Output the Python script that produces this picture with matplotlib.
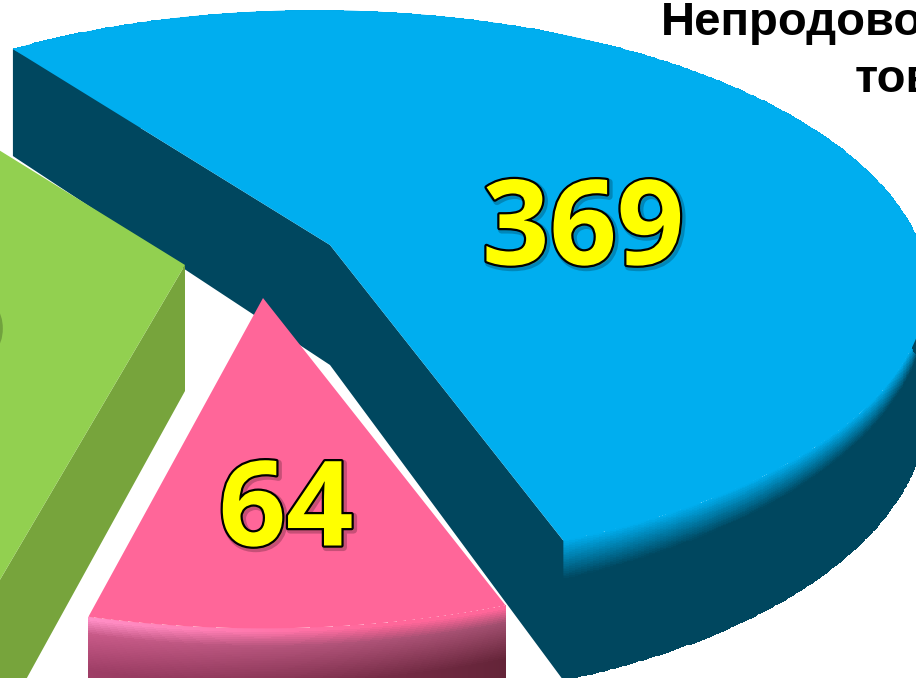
import numpy as np
import matplotlib
matplotlib.use('Agg')
import matplotlib.pyplot as plt
import matplotlib.patheffects as pe
from matplotlib.colors import to_rgb
from matplotlib.patches import Polygon

# Data
# ----------------------------------------------------------------------------

labels = ['369', '64', '246']
values = [369, 64, 246]     # last one is cut off in the picture, estimated
title_lines = ['Непродовольчі', 'товари']

# Layout and projection of the 3D pie, in pixels of the 916x678 picture
# ----------------------------------------------------------------------------

start = 125.5   # angle of first slice edge [deg], slices run clockwise
rx = 590        # half width of the disc
ry = 270        # half height of the disc
persp = 0.15    # perspective strength
depth = 120     # height of the disc

apex = [(330, 245), (263, 298), (185, 265)]
scale = [1.0, 1.04, 1.05]
lean_back = [-0.06, 0.0, -0.06]     # sideways drift of the far half
lean_front = [0.0, 0.0, 0.04]       # sideways drift of the near half

blue, blue_dark = '#00AEEF', '#00475F'
pink = '#FF6699'
green, green_dark = '#92D050', '#77A43C'


def project(theta, r, z, i):
    x = r * np.cos(np.radians(theta))
    y = r * np.sin(np.radians(theta))
    w = 1 + persp * y
    s = scale[i]
    lean = np.where(y > 0, lean_back[i], lean_front[i])
    sx = apex[i][0] + s * (rx * x + lean * ry * y) / w
    sy = apex[i][1] + s * (-ry * y + depth * z) / w
    return sx, sy


def rgb(c):
    return np.array(to_rgb(c)) if isinstance(c, str) else c


def mix(c0, c1, t):
    t = np.clip(t, 0, 1)[..., None]
    return (1 - t) * rgb(c0) + t * rgb(c1)


def blue_wall(u, v):
    # soft band under the rim, wide at the near corner, narrow at the right
    band = 0.28 - 0.17 * np.clip(u / 0.4, 0, 1)
    return mix(blue, blue_dark, v / band)


def green_wall(u, v):
    return mix(green_dark, green_dark, v)


def pink_wall(u, v):
    rim = mix('#FF8FC6', pink, u / 0.7)
    low = mix('#C85A88', '#A04E6E', u)
    bottom = mix('#9E3E66', '#642438', u)
    return np.where((v > 0.12)[..., None],
                    mix(low, bottom, (v - 0.12) / 0.25),
                    mix(rim, low, (v - 0.02) / 0.1))


def draw_slice(ax, t0, t1, i, top, dark, wall, cuts):
    th = np.linspace(t0, t1, 361)
    zz = np.linspace(0, 1, 81)

    # curved outer wall, shaded cell by cell
    tg, zg = np.meshgrid(th, zz)
    xg, yg = project(tg, 1.0, zg, i)
    uu, vv = np.meshgrid((th[:-1] - t0) / (t1 - t0), (zz[:-1] + zz[1:]) / 2)
    ax.pcolormesh(xg, yg, wall(uu, vv), shading='flat', antialiased=False)

    # flat walls of the cut edges
    for t in cuts:
        p = [project(t, 0, 0, i), project(t, 1, 0, i),
             project(t, 1, 1, i), project(t, 0, 1, i)]
        ax.add_patch(Polygon(p, closed=True, fc=dark, ec='none'))

    # top face
    ax_, ay_ = project(th, 1.0, 0, i)
    pts = np.r_[[apex[i]], np.c_[ax_, ay_]]
    ax.add_patch(Polygon(pts, closed=True, fc=top, ec='none'))


# Plot
# ----------------------------------------------------------------------------

fig = plt.figure(figsize=(9.16, 6.78), dpi=100, facecolor='white')
ax = fig.add_axes([0, 0, 1, 1])

edges = start - np.r_[0, np.cumsum(values)] / np.sum(values) * 360

# blue slice
draw_slice(ax, edges[1], edges[0], 0, blue, blue_dark, blue_wall,
           [edges[0], edges[1]])

# green slice
draw_slice(ax, edges[3], edges[2], 2, green, green_dark, green_wall,
           [edges[2]])

# pink slice
draw_slice(ax, edges[2], edges[1], 1, pink, '#A04E6E', pink_wall, [])

ax.set_xlim(0, 916)
ax.set_ylim(678, 0)
ax.axis('off')

# Text
# ----------------------------------------------------------------------------

effects = [
    pe.Stroke(linewidth=5, foreground='black', alpha=0.22, offset=(1.5, -1.5)),
    pe.Stroke(linewidth=3.2, foreground='black'),
    pe.Normal(),
]
label_pos = [(583, 234), (286, 515), (1, 324)]
label_ha = ['center', 'center', 'right']
for txt, pos, ha in zip(labels, label_pos, label_ha):
    ax.text(pos[0], pos[1], txt, ha=ha, va='center', color='#FFFF00',
            family='Open Sans', weight='bold', fontsize=85, path_effects=effects)

ax.text(661, 35, title_lines[0], ha='left', va='baseline', color='black',
        family='Liberation Sans', weight='bold', fontsize=34)
ax.text(855, 92, title_lines[1], ha='left', va='baseline', color='black',
        family='Liberation Sans', weight='bold', fontsize=34)

fig.savefig('out.png', dpi=100)
